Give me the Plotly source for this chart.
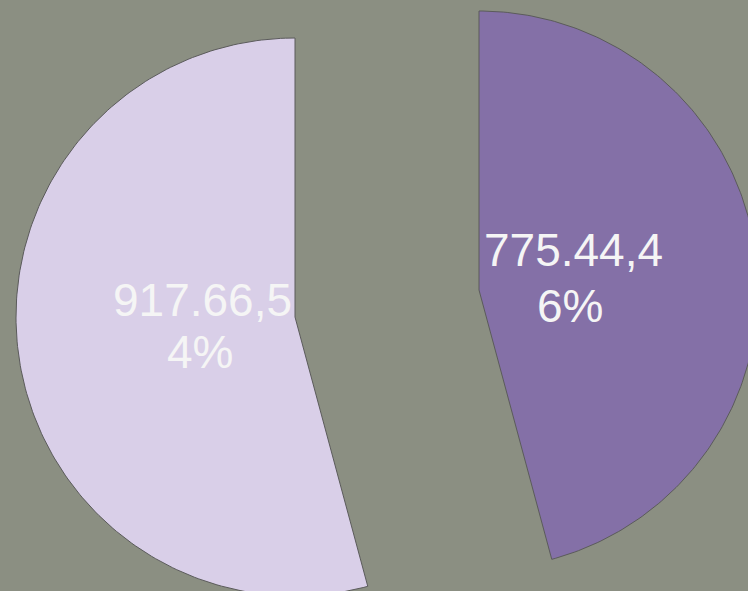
import numpy as np
import plotly.graph_objects as go

# data
values = [917.66, 775.44]
colors = ["#d9cfe8", "#8470a7"]

# layout of the exploded pie (pixel-like units)
vertices = [(295, 317), (479, 290)]
radius = 279
label_pos = [[(202, 300), (200, 352)], [(573, 250), (570, 306)]]

total = sum(values)
fig = go.Figure()

# slice 0 runs counterclockwise from 12 o'clock, slice 1 clockwise
spans = [(-360 * values[0] / total, 0), (0, 360 * values[1] / total)]
for (cx, cy), (a0, a1), col in zip(vertices, spans, colors):
    th = np.radians(np.linspace(a0, a1, 200))
    xs = np.concatenate([[cx], cx + radius * np.sin(th), [cx]])
    ys = np.concatenate([[cy], cy - radius * np.cos(th), [cy]])
    fig.add_trace(go.Scatter(
        x=xs, y=ys, mode="lines", fill="toself", fillcolor=col,
        line=dict(color="#5b5b5b", width=1), hoverinfo="skip", showlegend=False
    ))

for v, pos in zip(values, label_pos):
    s = f"{v:.2f},{round(100 * v / total)}%"
    for txt, (x, y) in zip([s[:8], s[8:]], pos):
        fig.add_annotation(
            x=x, y=y, text=txt, showarrow=False, xanchor="center", yanchor="middle",
            font=dict(family="Liberation Sans, Arial", size=46, color="#f5f5f5")
        )

fig.update_layout(
    width=748, height=591,
    margin=dict(l=0, r=0, t=0, b=0),
    paper_bgcolor="#8b8f82", plot_bgcolor="#8b8f82",
    xaxis=dict(range=[0, 748], visible=False, fixedrange=True),
    yaxis=dict(range=[591, 0], visible=False, fixedrange=True),
)
fig.write_html("out.html", config={"displayModeBar": False},
               post_script="document.body.style.margin='0';document.body.style.overflow='hidden';")
